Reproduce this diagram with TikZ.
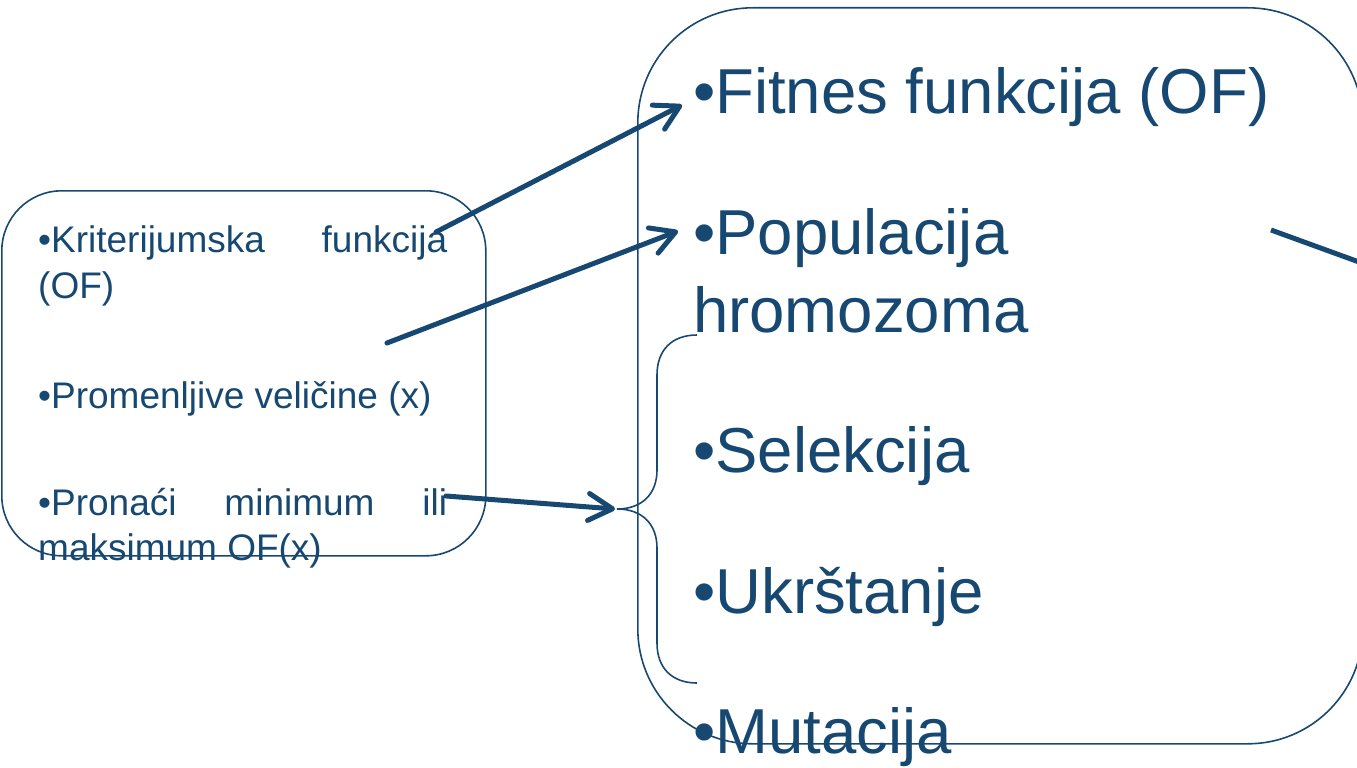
\documentclass[tikz,border=0pt]{standalone}
\usepackage{fontspec}
\setmainfont{Liberation Sans}
\usetikzlibrary{arrows.meta}
\definecolor{ink}{RGB}{23,72,113}
\begin{document}
\begin{tikzpicture}[x=1pt,y=-1pt,
  frame/.style={draw=ink, line width=1.6pt, inner sep=0pt, anchor=north west},
  small/.style={anchor=base west, inner sep=0pt, text=ink, font=\fontsize{37}{44}\selectfont},
  big/.style={anchor=base west, inner sep=0pt, text=ink, font=\fontsize{63.5}{76}\selectfont},
  link/.style={draw=ink, line width=5pt, line cap=round,
    -{Straight Barb[length=24pt,width=27pt,round]}},
  brace/.style={draw=ink, line width=1.6pt},
]
\useasboundingbox (0,0) rectangle (1357,768);

% the two frames
\node[frame, rounded corners=60pt, minimum width=484pt, minimum height=365pt] (lbox) at (1,190) {};
\node[frame, rounded corners=115pt, minimum width=725pt, minimum height=736pt] (rbox) at (637,7) {};

% left frame text
\node[small] (k1) at (38,252) {\hbox to 409pt{•Kriterijumska\hfill funkcija}};
\node[small] (k2) at (38,298) {(OF)};
\node[small] (pv) at (38,408) {•Promenljive veličine (x)};
\node[small] (m1) at (38,515) {\hbox to 409pt{•Pronaći\hfill minimum\hfill ili}};
\node[small] (m2) at (38,560) {maksimum OF(x)};

% right frame text
\node[big] (fit) at (693,113) {•Fitnes funkcija (OF)};
\node[big] (pop1) at (693,254) {•Populacija};
\node[big] (pop2) at (693,332) {hromozoma};
\node[big] (sel) at (693,472) {•Selekcija};
\node[big] (ukr) at (693,613) {•Ukrštanje};
\node[big] (mut) at (693,753) {•Mutacija};

% connector end points
\coordinate (a1s) at (436,232);
\coordinate (a1e) at (682,105);
\coordinate (a2s) at (387,343);
\coordinate (a2e) at (678,231);
\coordinate (a3s) at (446,496);
\coordinate (a3e) at (615,509);
\coordinate (ls) at (1271,230);
\coordinate (le) at (1370,266);

\draw[link] (a1s) -- (a1e);
\draw[link] (a2s) -- (a2e);
\draw[link] (a3s) -- (a3e);
\draw[draw=ink, line width=5pt] (ls) -- (le);

% curly brace grouping the operators
\coordinate (bt) at (697,335);
\coordinate (bm) at (617,509);
\coordinate (bb) at (697,683);
\draw[brace] (bt) .. controls (672,335) and (657,350) .. (657,375)
  -- (657,470) .. controls (657,494) and (642,509) .. (bm)
  .. controls (642,509) and (657,524) .. (657,548)
  -- (657,643) .. controls (657,668) and (672,683) .. (bb);
\end{tikzpicture}
\end{document}
